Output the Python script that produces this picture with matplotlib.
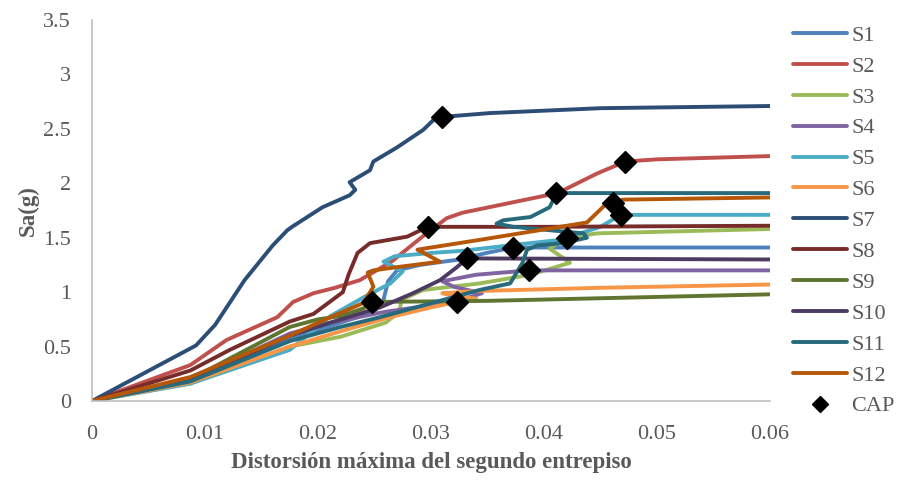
import matplotlib.pyplot as plt

# distorsion (x) and Sa (y) for each building model
s1_x = [0, 0.0087, 0.0175, 0.022, 0.025, 0.0258, 0.0262, 0.027, 0.029, 0.0325, 0.0349, 0.0373, 0.06]
s1_y = [0, 0.20, 0.57, 0.72, 0.82, 0.93, 1.10, 1.20, 1.25, 1.30, 1.36, 1.41, 1.41]

s2_x = [0, 0.0087, 0.0119, 0.0164, 0.0178, 0.0196, 0.0215, 0.0237, 0.0265, 0.0296, 0.0314, 0.0328,
        0.0412, 0.0447, 0.0472, 0.05, 0.06]
s2_y = [0, 0.33, 0.56, 0.77, 0.91, 0.99, 1.04, 1.11, 1.28, 1.54, 1.68, 1.73,
        1.91, 2.09, 2.20, 2.22, 2.25]

s3_x = [0, 0.0087, 0.0175, 0.022, 0.026, 0.0272, 0.0274, 0.0293, 0.0343, 0.0388, 0.0423,
        0.0405, 0.0417, 0.042, 0.0447, 0.06]
s3_y = [0, 0.16, 0.50, 0.59, 0.72, 0.82, 0.93, 1.02, 1.08, 1.16, 1.27,
        1.40, 1.48, 1.50, 1.54, 1.58]

s4_x = [0, 0.0087, 0.0175, 0.0211, 0.026, 0.03, 0.033, 0.0345, 0.032, 0.031, 0.034, 0.0387, 0.06]
s4_y = [0, 0.19, 0.62, 0.72, 0.82, 0.88, 0.94, 0.99, 1.05, 1.10, 1.16, 1.20, 1.20]

s5_x = [0, 0.0087, 0.0175, 0.0211, 0.024, 0.0264, 0.0275, 0.0258, 0.0268, 0.03, 0.0328,
        0.037, 0.0414, 0.045, 0.0468, 0.06]
s5_y = [0, 0.16, 0.47, 0.78, 0.95, 1.08, 1.19, 1.28, 1.33, 1.36, 1.38,
        1.43, 1.48, 1.60, 1.71, 1.71]

s6_x = [0, 0.0087, 0.0175, 0.022, 0.026, 0.03, 0.0323, 0.034, 0.0318, 0.031, 0.034, 0.045, 0.06]
s6_y = [0, 0.17, 0.50, 0.64, 0.76, 0.86, 0.91, 0.94, 0.97, 0.99, 1.01, 1.04, 1.07]

s7_x = [0, 0.0092, 0.0109, 0.0135, 0.016, 0.0173, 0.0177, 0.0204, 0.0228, 0.0233, 0.0228,
        0.0246, 0.0249, 0.027, 0.0293, 0.0302, 0.031, 0.0352, 0.045, 0.06]
s7_y = [0, 0.51, 0.70, 1.11, 1.43, 1.57, 1.60, 1.78, 1.89, 1.94, 2.01,
        2.12, 2.20, 2.33, 2.49, 2.58, 2.61, 2.645, 2.69, 2.71]

s8_x = [0, 0.0087, 0.0122, 0.0175, 0.0196, 0.0222, 0.0227, 0.0235, 0.0246, 0.0279, 0.0297, 0.04, 0.06]
s8_y = [0, 0.28, 0.47, 0.73, 0.80, 1.00, 1.16, 1.36, 1.45, 1.51, 1.60, 1.60, 1.61]

s9_x = [0, 0.0087, 0.0175, 0.02, 0.022, 0.024, 0.0248, 0.035, 0.06]
s9_y = [0, 0.20, 0.68, 0.75, 0.78, 0.85, 0.91, 0.92, 0.98]

s10_x = [0, 0.0087, 0.0175, 0.0211, 0.0255, 0.0284, 0.0308, 0.0323, 0.0332, 0.06]
s10_y = [0, 0.19, 0.60, 0.72, 0.86, 0.99, 1.11, 1.23, 1.31, 1.30]

s11_x = [0, 0.0087, 0.0175, 0.022, 0.0255, 0.0343, 0.037, 0.0381, 0.0385, 0.0394, 0.0417,
         0.0438, 0.0435, 0.0373, 0.0358, 0.0364, 0.0388, 0.0405, 0.0411, 0.06]
s11_y = [0, 0.18, 0.55, 0.68, 0.77, 1.02, 1.08, 1.27, 1.39, 1.43, 1.45,
         1.50, 1.54, 1.60, 1.63, 1.66, 1.69, 1.78, 1.91, 1.91]

s12_x = [0, 0.0087, 0.0175, 0.0211, 0.024, 0.0249, 0.0244, 0.0249, 0.027, 0.0308, 0.0288,
         0.03, 0.0343, 0.0438, 0.0456, 0.0461, 0.047, 0.06]
s12_y = [0, 0.22, 0.60, 0.77, 0.90, 1.05, 1.18, 1.20, 1.23, 1.28, 1.39,
         1.41, 1.48, 1.64, 1.82, 1.82, 1.85, 1.87]

# collapse points (CAP) of each model
cap_x = [0.0373, 0.0472, 0.042, 0.0387, 0.0468, 0.0323, 0.031, 0.0297, 0.0248, 0.0332, 0.0411, 0.0461]
cap_y = [1.41, 2.20, 1.50, 1.20, 1.71, 0.91, 2.61, 1.60, 0.91, 1.31, 1.91, 1.82]

series = [
    ("S1", s1_x, s1_y, "#4F81BD"),
    ("S2", s2_x, s2_y, "#C0504D"),
    ("S3", s3_x, s3_y, "#9BBB59"),
    ("S4", s4_x, s4_y, "#8064A2"),
    ("S5", s5_x, s5_y, "#4BACC6"),
    ("S6", s6_x, s6_y, "#F79646"),
    ("S7", s7_x, s7_y, "#2C4D75"),
    ("S8", s8_x, s8_y, "#772C2A"),
    ("S9", s9_x, s9_y, "#5F7530"),
    ("S10", s10_x, s10_y, "#4D3B62"),
    ("S11", s11_x, s11_y, "#276A7C"),
    ("S12", s12_x, s12_y, "#B65708"),
]

plt.rcParams['font.family'] = ['Liberation Serif', 'DejaVu Serif']
gray = "#595959"

fig = plt.figure(figsize=(9.03, 4.8), dpi=100)
ax = fig.add_axes([0.1019, 0.1646, 0.7508, 0.7937])

for name, xs, ys, col in series:
    ax.plot(xs, ys, color=col, lw=2.8, label=name,
            solid_joinstyle='round', solid_capstyle='round')

ax.plot(cap_x, cap_y, linestyle='none', marker='D', markersize=11,
        color='black', label='CAP', zorder=5)

ax.set_xlim(0, 0.06)
ax.set_ylim(0, 3.5)
ax.set_xticks([0, 0.01, 0.02, 0.03, 0.04, 0.05, 0.06])
ax.set_xticklabels(['0', '0.01', '0.02', '0.03', '0.04', '0.05', '0.06'])
ax.set_yticks([0, 0.5, 1, 1.5, 2, 2.5, 3, 3.5])
ax.set_yticklabels(['0', '0.5', '1', '1.5', '2', '2.5', '3', '3.5'])
ax.tick_params(length=0, labelsize=16, labelcolor=gray)
ax.tick_params(axis='y', pad=15)
ax.tick_params(axis='x', pad=17)

for side in ['top', 'right']:
    ax.spines[side].set_visible(False)
for side in ['left', 'bottom']:
    ax.spines[side].set_color('#BFBFBF')
    ax.spines[side].set_linewidth(1.2)

ax.set_xlabel('Distorsión máxima del segundo entrepiso', fontsize=16.5,
              fontweight='bold', color=gray, labelpad=6)
ax.set_ylabel('Sa(g)', fontsize=16.5, fontweight='bold', color=gray, labelpad=3)

leg = fig.legend(loc='upper left', bbox_to_anchor=(0.868, 0.966), frameon=False,
                 fontsize=16, handlelength=2.43, labelspacing=0.465, handletextpad=0.22,
                 borderaxespad=0, markerscale=0.75)
for t in leg.get_texts():
    t.set_color(gray)

fig.savefig('out.png', dpi=100)
